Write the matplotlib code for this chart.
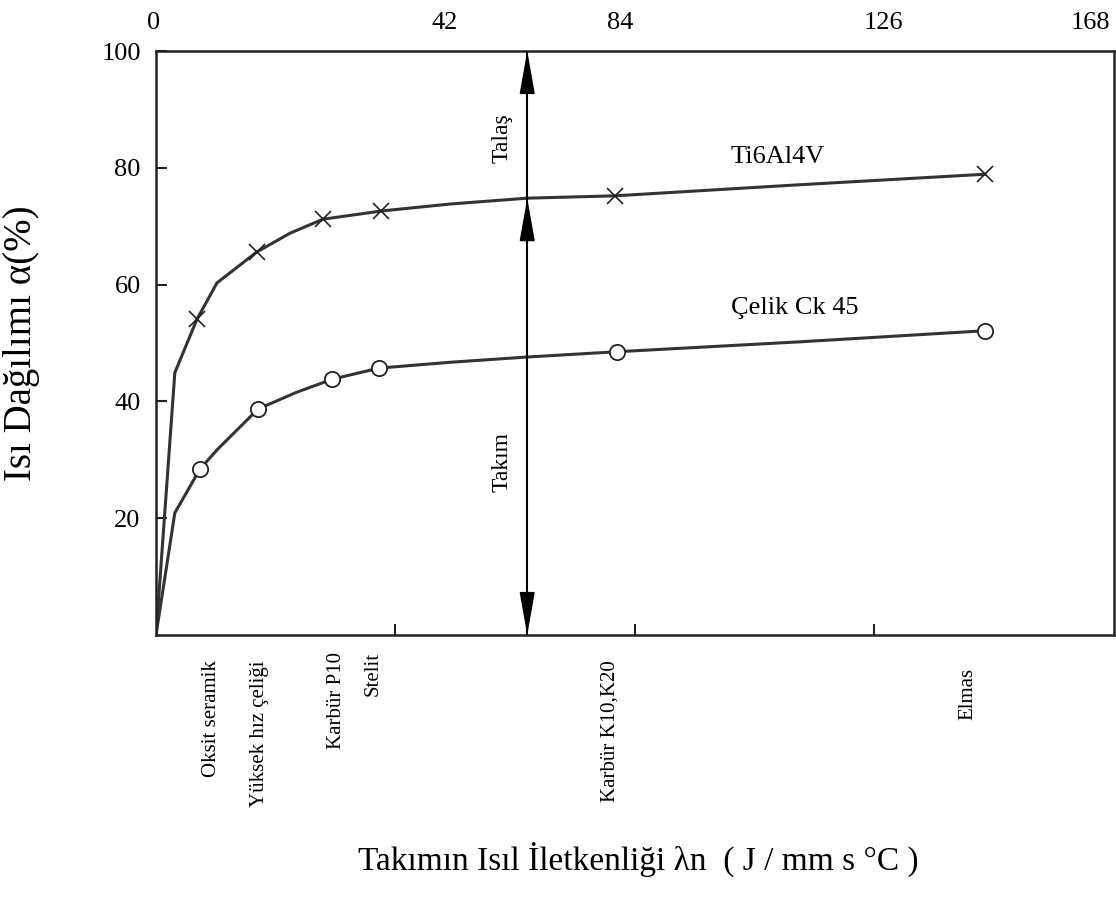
import numpy as np
import matplotlib
matplotlib.use("Agg")
import matplotlib.pyplot as plt

plt.rcParams['font.family'] = ['Liberation Serif', 'DejaVu Serif']

# tool materials (marker positions on each curve)
materials = ['Oksit seramik', 'Yüksek hız çeliği', 'Karbür P10', 'Stelit', 'Karbür K10,K20', 'Elmas']
ti_mark_x = [7.2, 17.7, 29.3, 39.5, 80.5, 145.4]
ti_mark_y = [54.1, 65.6, 71.2, 72.6, 75.2, 78.9]
ck_mark_x = [7.7, 17.9, 30.9, 39.1, 80.8, 145.4]
ck_mark_y = [28.4, 38.7, 43.8, 45.7, 48.5, 52.1]

# curve traces
ti_x = [0, 3.3, 7.2, 10.7, 17.7, 23.5, 29.3, 39.5, 51.6, 65.1, 80.5, 112.9, 145.4]
ti_y = [0, 44.9, 54.1, 60.3, 65.6, 68.8, 71.2, 72.6, 73.8, 74.8, 75.2, 77.1, 78.9]
ck_x = [0, 3.3, 7.7, 10.7, 17.9, 24.5, 30.9, 39.1, 51.6, 65.1, 80.8, 112.9, 145.4]
ck_y = [0, 20.9, 28.4, 31.7, 38.7, 41.5, 43.8, 45.7, 46.7, 47.6, 48.5, 50.2, 52.1]

top_labels = ['0', '42', '84', '126', '168']
bottom_ticks = [42, 84, 126]
y_ticks = [20, 40, 60, 80, 100]
split_x = 65.1  # position of the Talaş / Takım divider

fig = plt.figure(figsize=(11.16, 9.08), dpi=100)
ax = fig.add_axes([156 / 1116, 1 - 635 / 908, 958 / 1116, 584 / 908])
ax.set_xlim(0, 168)
ax.set_ylim(0, 100)

line_kw = dict(color='#333333', lw=2.2, solid_capstyle='round', zorder=2)
ax.plot(ti_x, ti_y, **line_kw)
ax.plot(ck_x, ck_y, **line_kw)
ax.plot(ti_mark_x, ti_mark_y, ls='none', marker='x', ms=11, mew=1.2, color='#222222', zorder=3)
ax.plot(ck_mark_x, ck_mark_y, ls='none', marker='o', ms=11, mew=1.3,
        mfc='white', mec='#222222', zorder=3)

ax.text(109.1, 81.8, 'Ti6Al4V', fontsize=19, ha='center', va='center')
ax.text(112.1, 56.0, 'Çelik Ck 45', fontsize=19, ha='center', va='center')

# divider with arrow heads
ti_at_split = np.interp(split_x, ti_x, ti_y)
ax.plot([split_x, split_x], [0, 100], color='k', lw=1.5, zorder=4)
head = '-|>,head_length=27,head_width=4.8'
for tip, tail in [(100, 93.6), (ti_at_split, ti_at_split - 7.2), (0, 6.8)]:
    ax.annotate('', xy=(split_x, tip), xytext=(split_x, tail),
                arrowprops=dict(arrowstyle=head, mutation_scale=1, color='k',
                                lw=1.2, shrinkA=0, shrinkB=0), zorder=5)
ax.text(60.7, 85.1, 'Talaş', rotation=90, fontsize=17, ha='center', va='center')
ax.text(60.7, 29.6, 'Takım', rotation=90, fontsize=17, ha='center', va='center')

# axes styling
for s in ax.spines.values():
    s.set_linewidth(1.8)
    s.set_color('#222222')
ax.set_xticks(bottom_ticks)
ax.set_xticklabels([])
ax.set_yticks(y_ticks)
ax.set_yticklabels([str(v) for v in y_ticks], fontsize=19)
ax.tick_params(direction='in', length=8, width=1.5, colors='#222222', labelcolor='k')
ax.tick_params(axis='y', pad=11)

# top scale labels
top_x = [-0.35, 50.7, 81.4, 127.5, 163.8]
for lx, lab in zip(top_x, top_labels):
    ax.text(lx, 1.0 + 28 / 584, lab, transform=ax.get_xaxis_transform(),
            fontsize=19, ha='center', va='center')

# material names under the axis
label_x = [9.8, 18.2, 31.7, 38.1, 79.6, 142.4]
label_top = [-0.043, -0.043, -0.029, -0.029, -0.043, -0.057]
for lx, ly, name in zip(label_x, label_top, materials):
    ax.text(lx, ly, name, transform=ax.get_xaxis_transform(), rotation=90,
            fontsize=15, ha='center', va='top')

ax.set_ylabel('Isı Dağılımı α(%)', fontsize=28)
ax.yaxis.set_label_coords(-0.121, 0.5)
ax.set_xlabel('Takımın Isıl İletkenliği λn  ( J / mm s °C )', fontsize=24, va='center')
ax.xaxis.set_label_coords(0.503, -0.385)

fig.savefig('out.png', dpi=100)
